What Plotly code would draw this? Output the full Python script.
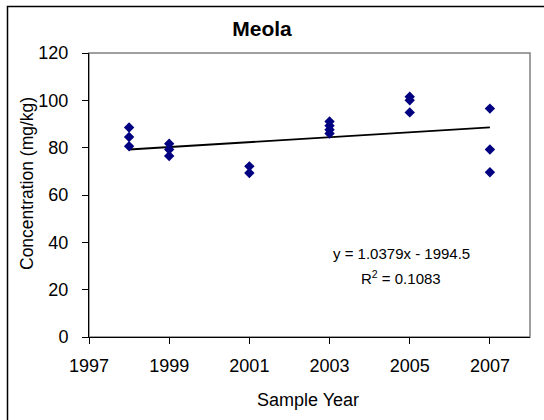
import plotly.graph_objects as go

# Data
years_1998 = [1998, 1998, 1998]
conc_1998 = [88.5, 84.5, 80.6]
years_1999 = [1999, 1999, 1999]
conc_1999 = [81.7, 79.2, 76.5]
years_2001 = [2001, 2001]
conc_2001 = [72.1, 69.3]
years_2003 = [2003, 2003, 2003, 2003]
conc_2003 = [91.1, 89.3, 87.6, 86.0]
years_2005 = [2005, 2005, 2005]
conc_2005 = [101.5, 100.0, 94.9]
years_2007 = [2007, 2007, 2007]
conc_2007 = [96.5, 79.2, 69.6]

sample_years = years_1998 + years_1999 + years_2001 + years_2003 + years_2005 + years_2007
concentrations = conc_1998 + conc_1999 + conc_2001 + conc_2003 + conc_2005 + conc_2007

trend_slope = 1.0379
trend_intercept = -1994.5
trend_r2 = 0.1083
trend_x = [min(sample_years), max(sample_years)]
trend_y = [trend_slope * x + trend_intercept for x in trend_x]

title_text = "Meola"
x_title = "Sample Year"
y_title = "Concentration (mg/kg)"

W, H = 544, 420
L, R, T, B = 89, 14, 53, 83
pw = W - L - R
ph = H - T - B

def px_to_paper_x(px):
    return (px - L) / pw

def px_to_paper_y(py):
    return (H - B - py) / ph

FONT = "Liberation Sans, Arial, sans-serif"

fig = go.Figure()
fig.add_trace(go.Scatter(
    x=trend_x, y=trend_y, mode="lines",
    line=dict(color="black", width=1.8), showlegend=False, hoverinfo="skip"))
fig.add_trace(go.Scatter(
    x=sample_years, y=concentrations, mode="markers",
    marker=dict(symbol="diamond", size=8, color="#000080"),
    showlegend=False))

fig.update_layout(
    width=W, height=H,
    margin=dict(l=L, r=R, t=T, b=B),
    paper_bgcolor="white", plot_bgcolor="white",
    font=dict(family=FONT, color="black", size=18),
    title=dict(text="<b>" + title_text + "</b>", x=262 / W, y=1 - 29 / H,
               xanchor="center", yanchor="middle", xref="container", yref="container",
               font=dict(size=21, family=FONT, color="black")),
    xaxis=dict(range=[1997, 2008], tick0=1997, dtick=2, showgrid=False, zeroline=False,
               showline=True, linecolor="black", linewidth=1,
               ticks="outside", ticklen=6, tickcolor="black", ticklabelstandoff=6,
               tickfont=dict(size=18)),
    yaxis=dict(range=[0, 120], tick0=0, dtick=20, showgrid=False, zeroline=False,
               showline=True, linecolor="black", linewidth=1,
               ticks="outside", ticklen=6, tickcolor="black", ticklabelstandoff=10,
               tickfont=dict(size=18)),
    shapes=[
        dict(type="rect", xref="paper", yref="paper", x0=0, x1=1, y0=0, y1=1,
             line=dict(color="#808080", width=1.5), layer="below"),
        dict(type="rect", xref="paper", yref="paper",
             x0=px_to_paper_x(7.5), x1=px_to_paper_x(600),
             y0=px_to_paper_y(500), y1=px_to_paper_y(6.5),
             line=dict(color="black", width=1.5), layer="below"),
    ],
    annotations=[
        dict(text=x_title, xref="paper", yref="paper",
             x=px_to_paper_x(307.5), y=px_to_paper_y(400),
             xanchor="center", yanchor="middle", showarrow=False,
             font=dict(size=18)),
        dict(text=y_title, xref="paper", yref="paper",
             x=px_to_paper_x(27), y=px_to_paper_y(184),
             xanchor="center", yanchor="middle", showarrow=False, textangle=-90,
             font=dict(size=17.5)),
        dict(text="y = %.4fx - %.1f" % (trend_slope, -trend_intercept),
             x=2004.79, y=35.4, xref="x", yref="y",
             xanchor="center", yanchor="middle", showarrow=False,
             font=dict(size=15)),
        dict(text="R<sup>2</sup> = %.4f" % trend_r2,
             x=2004.79, y=25.2, xref="x", yref="y",
             xanchor="center", yanchor="middle", showarrow=False,
             font=dict(size=15)),
    ],
)

fig.write_html("out.html", config={"displayModeBar": False},
               post_script="document.body.style.margin='0';document.body.style.overflow='hidden';")
